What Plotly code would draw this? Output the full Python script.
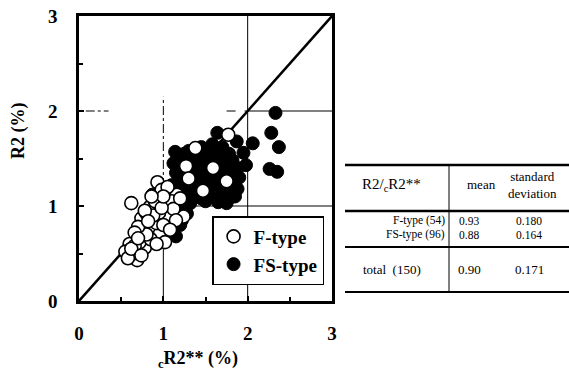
import plotly.graph_objects as go

# F-type specimens (open circles): calculated cR2** vs measured R2, in %
f_x = [0.62, 0.93, 0.98, 1.03, 0.84, 0.90, 1.16, 1.10, 1.24, 1.05,
       0.74, 0.80, 0.88, 0.76, 0.68, 0.96, 0.92, 0.60, 0.55, 0.69,
       0.78, 0.72, 0.64, 0.85, 1.00, 0.95, 1.12, 1.20, 1.38, 1.27,
       1.59, 1.30, 1.75, 1.47, 1.77, 1.05, 0.88, 0.66, 0.58, 0.80,
       1.02, 0.70, 0.62, 0.92, 1.15, 1.08, 0.98, 0.74, 1.00, 0.78,
       0.66, 0.86, 0.82, 0.70]
f_y = [1.03, 1.25, 1.17, 1.00, 0.99, 1.05, 1.12, 1.05, 0.89, 0.90,
       0.87, 0.92, 0.78, 0.77, 0.68, 0.71, 0.82, 0.60, 0.52, 0.43,
       0.56, 0.62, 0.50, 0.65, 0.80, 0.93, 0.97, 1.08, 1.61, 1.42,
       1.40, 1.29, 1.26, 1.16, 1.75, 1.20, 0.90, 0.58, 0.45, 0.70,
       0.62, 0.78, 0.55, 0.60, 0.85, 0.75, 0.98, 0.48, 1.10, 0.95,
       0.72, 1.10, 0.84, 0.66]

# FS-type specimens (filled circles)
fs_x = [2.33, 2.28, 2.37, 2.26, 2.35, 2.06, 1.95, 1.98, 1.64, 1.87,
        1.14, 1.25, 1.48, 1.55, 1.62, 1.70, 1.78,
        1.12, 1.20, 1.35, 1.42, 1.50, 1.65, 1.72, 1.82, 1.88,
        1.15, 1.22, 1.38, 1.45, 1.52, 1.62, 1.68, 1.80, 1.85,
        1.10, 1.18, 1.25, 1.38, 1.45, 1.55, 1.62, 1.70, 1.82, 1.88,
        1.22, 1.30, 1.38, 1.55, 1.62, 1.70, 1.78, 1.85, 1.45,
        1.32, 1.50, 1.65, 1.75,
        0.87, 0.95, 1.02, 1.08, 1.12, 1.05,
        1.15, 1.20, 1.25, 1.18, 1.28, 1.12, 1.20, 1.10, 1.15, 1.05, 1.22, 1.08,
        1.30, 1.40, 1.58, 1.75, 1.28, 1.48, 1.60, 1.35, 1.42, 1.68,
        1.78, 1.52, 1.25, 1.15, 1.32, 1.72, 1.58, 1.45, 1.90, 1.00]
fs_y = [1.98, 1.77, 1.62, 1.39, 1.36, 1.66, 1.56, 1.43, 1.77, 1.68,
        1.57, 1.55, 1.58, 1.52, 1.60, 1.62, 1.55,
        1.45, 1.48, 1.50, 1.45, 1.42, 1.48, 1.45, 1.48, 1.40,
        1.35, 1.33, 1.38, 1.32, 1.30, 1.35, 1.30, 1.35, 1.25,
        1.22, 1.25, 1.20, 1.22, 1.25, 1.20, 1.22, 1.18, 1.15, 1.18,
        1.12, 1.10, 1.12, 1.10, 1.08, 1.10, 1.08, 1.10, 1.08,
        1.03, 1.05, 1.04, 1.03,
        1.12, 1.10, 1.15, 1.10, 1.02, 1.08,
        0.95, 0.98, 1.00, 0.90, 0.92, 0.82, 0.80, 0.72, 0.68, 0.68, 0.85, 0.88,
        1.58, 1.55, 1.45, 1.40, 1.40, 1.50, 1.28, 1.28, 1.18, 1.40,
        1.22, 1.15, 1.28, 1.15, 1.18, 1.55, 1.65, 1.62, 1.30, 0.95]

axis_ticks = [0, 1, 2, 3]
x_title = "<sub>c</sub>R2** (%)"
y_title = "R2 (%)"

# Summary table of R2 / cR2**
table_head = ["R2/<sub>c</sub>R2**", "mean", "standard<br>deviation"]
table_groups = ["F-type (54)", "FS-type (96)", "total  (150)"]
table_means = ["0.93", "0.88", "0.90"]
table_sds = ["0.180", "0.164", "0.171"]

SERIF = "Times New Roman, Liberation Serif, DejaVu Serif, serif"
W, H = 569, 374
L, R, T, B = 79, 332, 16, 301


def paper(px, py):
    """Convert a pixel position on the page into paper coordinates."""
    return (px - L) / (R - L), (B - py) / (B - T)


fig = go.Figure()

fig.add_trace(go.Scatter(
    x=[0, 3], y=[0, 3], mode="lines",
    line=dict(color="black", width=2.5),
    showlegend=False, hoverinfo="skip",
))
fig.add_trace(go.Scatter(
    x=fs_x, y=fs_y, mode="markers", name="FS-type",
    marker=dict(symbol="circle", size=13, color="black",
                line=dict(color="black", width=1)),
))
fig.add_trace(go.Scatter(
    x=f_x, y=f_y, mode="markers", name="F-type",
    marker=dict(symbol="circle", size=13, color="white",
                line=dict(color="black", width=1.6)),
))

# Reference grid segments inside the plot
grid = [
    dict(x0=2, x1=2, y0=0, y1=3, dash="solid"),
    dict(x0=1, x1=1, y0=0, y1=1.2, dash="solid"),
    dict(x0=1, x1=1, y0=1.2, y1=2.15, dash="dashdot"),
    dict(x0=2, x1=3, y0=2, y1=2, dash="solid"),
    dict(x0=1.75, x1=2, y0=2, y1=2, dash="dash"),
    dict(x0=0.08, x1=0.35, y0=2, y1=2, dash="dashdot"),
    dict(x0=1.3, x1=3, y0=1, y1=1, dash="solid"),
]
for g in grid:
    fig.add_shape(type="line", xref="x", yref="y", layer="below",
                  x0=g["x0"], x1=g["x1"], y0=g["y0"], y1=g["y1"],
                  line=dict(color="black", width=1, dash=g["dash"]))

# Table rules
for py, w in [(165, 2.5), (211, 2.5), (247, 2), (292, 2)]:
    x0, y0 = paper(345, py)
    x1, _ = paper(569, py)
    fig.add_shape(type="line", xref="paper", yref="paper",
                  x0=x0, x1=x1, y0=y0, y1=y0,
                  line=dict(color="black", width=w))
vx, vy0 = paper(449, 165)
_, vy1 = paper(449, 292)
fig.add_shape(type="line", xref="paper", yref="paper",
              x0=vx, x1=vx, y0=vy0, y1=vy1,
              line=dict(color="black", width=1))


def note(text, px, py, size=12, xanchor="center", bold=False, angle=0):
    x, y = paper(px, py)
    fig.add_annotation(text=text, x=x, y=y, xref="paper", yref="paper",
                       xanchor=xanchor, yanchor="middle", showarrow=False,
                       borderpad=0, textangle=angle,
                       font=dict(family=SERIF, size=size, color="black",
                                 weight="bold" if bold else "normal"))


# Axis titles
note(x_title, 198, 359, size=18, bold=True)
note(y_title, 18, 131, size=18, bold=True, angle=-90)

note(table_head[0], 391, 185, size=15)
note(table_head[1], 481, 184, size=13)
note(table_head[2], 532, 185, size=13)
row_y = [220.5, 235, 269]
for i, ry in enumerate(row_y):
    size = 11.5 if i < 2 else 13
    if i < 2:
        note(table_groups[i], 446, ry, size=size, xanchor="right")
    else:
        note(table_groups[i], 392, ry, size=size)
    note(table_means[i], 469, ry, size=size)
    note(table_sds[i], 529, ry, size=size)

axis_common = dict(
    range=[0, 3], tickvals=axis_ticks, ticktext=[str(t) for t in axis_ticks],
    ticks="inside", ticklen=5, tickwidth=2, tickcolor="black",
    minor=dict(dtick=0.5, ticks="inside", ticklen=4, tickwidth=2,
               tickcolor="black"),
    showline=True, linewidth=2.5, linecolor="black", mirror=True,
    showgrid=False, zeroline=False, automargin=False,
    tickfont=dict(family=SERIF, size=19, color="black", weight="bold"),
)

fig.update_layout(
    width=W, height=H,
    margin=dict(l=L, r=W - R, t=T, b=H - B),
    paper_bgcolor="white", plot_bgcolor="white",
    font=dict(family=SERIF),
    xaxis=dict(**axis_common, ticklabelstandoff=13),
    yaxis=dict(**axis_common, ticklabelstandoff=15),
    legend=dict(x=0.526, y=0.298, xanchor="left", yanchor="top",
                bgcolor="white", bordercolor="black", borderwidth=1.5,
                traceorder="reversed", itemwidth=30,
                font=dict(family=SERIF, size=19, color="black", weight="bold")),
    showlegend=True,
)

fig.write_html("out.html")
